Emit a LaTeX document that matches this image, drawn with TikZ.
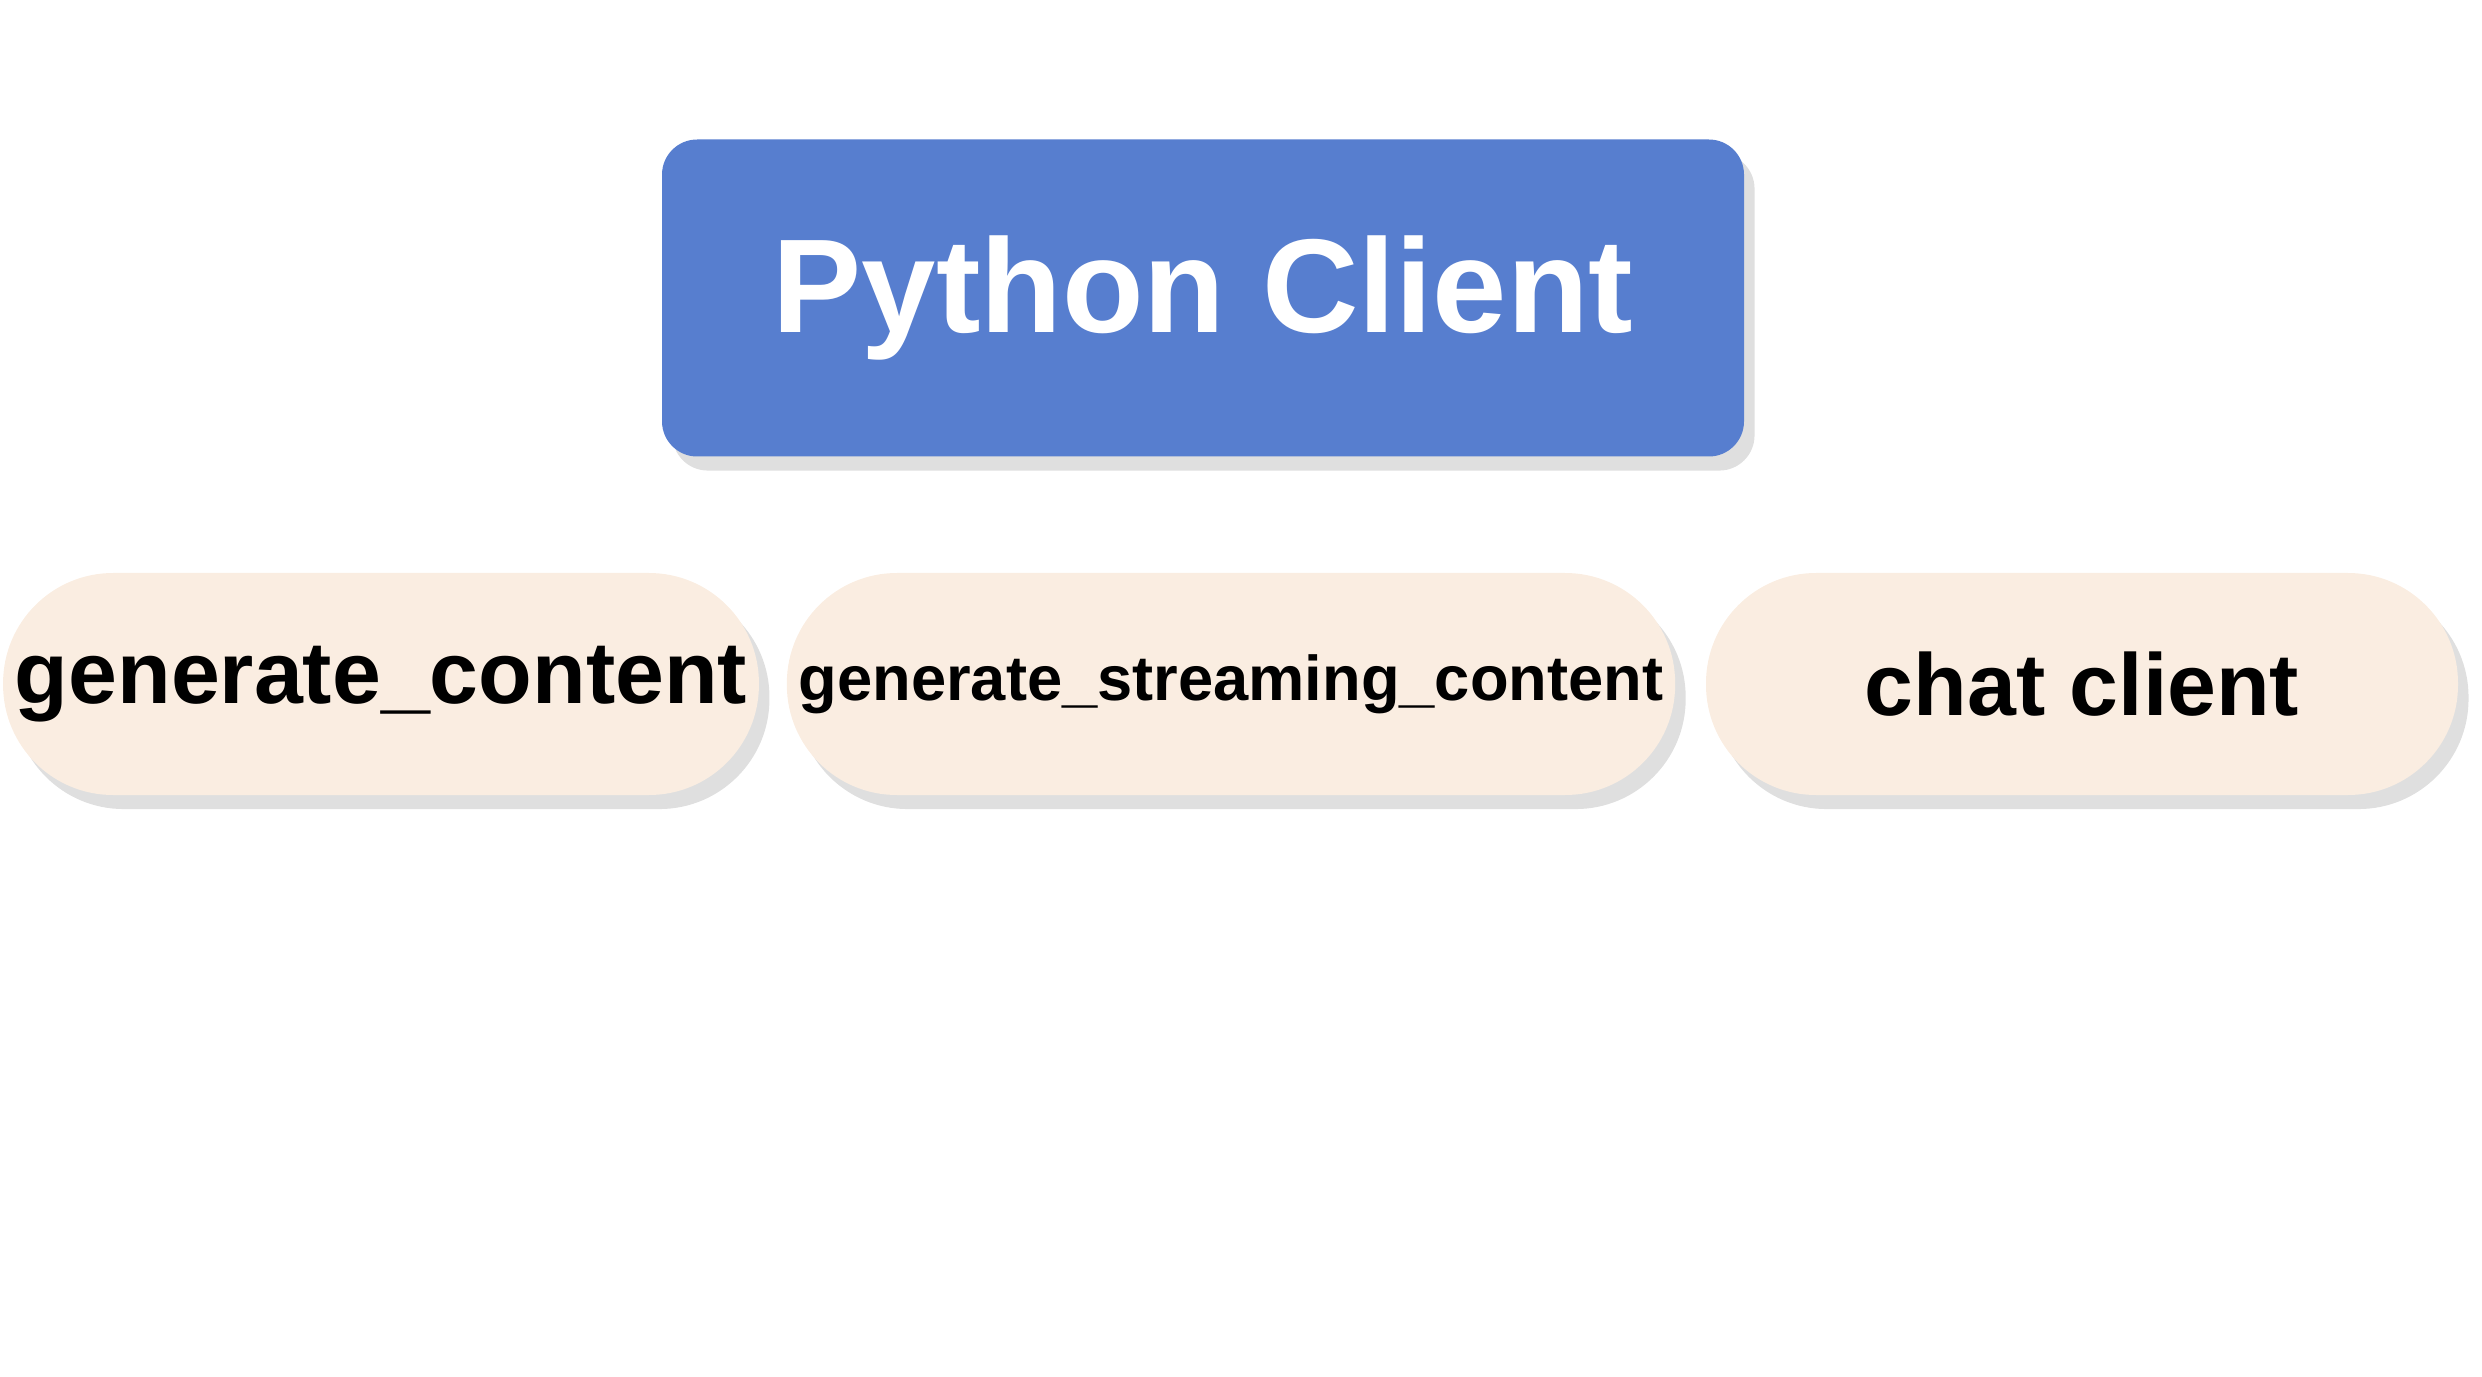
\documentclass[tikz,border=0pt]{standalone}
\usepackage{fontspec}
\setmainfont{Liberation Sans}
\usetikzlibrary{shadows}
\definecolor{clientblue}{HTML}{577ECF}
\definecolor{pillcream}{HTML}{FAEDE1}

\tikzset{
  clientbox/.style={fill=clientblue, rounded corners=10pt, minimum width=10.82cm,
    minimum height=3.17cm, text=white, font=\fontsize{38}{44}\selectfont\bfseries,
    drop shadow={opacity=0.25, shadow xshift=3pt, shadow yshift=-4pt}},
  methodpill/.style={fill=pillcream, rounded corners=1.1cm, minimum width=7.52cm,
    minimum height=2.22cm, font=\fontsize{25}{30}\selectfont\bfseries,
    drop shadow={opacity=0.25, shadow xshift=3pt, shadow yshift=-4pt}}
}

\begin{document}
\begin{tikzpicture}
  \useasboundingbox (0,0) rectangle (24.82,13.76);

  % client
  \node[clientbox] (client) at (12.03,10.78) {Python Client};

  % methods
  \node[methodpill] (generate) at (3.81,6.92) {generate\_content};
  \node[methodpill, font=\fontsize{18}{22}\selectfont\bfseries] (streaming) at (12.31,6.92) {generate\_streaming\_content};
  \node[methodpill] (chat) at (20.82,6.92) {chat client};
\end{tikzpicture}
\end{document}
